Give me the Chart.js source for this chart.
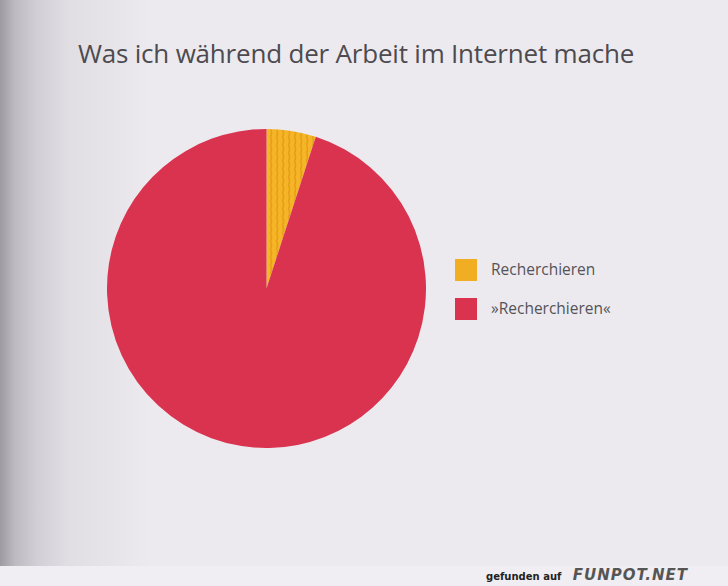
<!DOCTYPE html>
<html>
<head>
<meta charset="utf-8">
<script src="https://cdn.jsdelivr.net/npm/chart.js@4"></script>
<style>
  html, body { margin: 0; padding: 0; }
  body {
    width: 728px; height: 586px; overflow: hidden; position: relative;
    background: #eceaef;
    font-family: "Open Sans", "Noto Sans", sans-serif;
  }
  #shade {
    position: absolute; left: 0; top: 0; width: 150px; height: 566px;
    background: linear-gradient(to right, #9d9aa2 0%, #bdbac1 10%, #d2d0d6 25%, #e0dee3 45%, rgba(236,234,239,0) 100%);
  }
  #title {
    position: absolute; left: 0; width: 712px; top: 35px; text-align: center;
    font-size: 26px; color: #4d4b4f; letter-spacing: -0.2px;
  }
  #pie { position: absolute; left: 107px; top: 129px; width: 319px; height: 319px; }
  .leg { position: absolute; left: 455px; font-size: 15.5px; color: #555358; }
  .leg span.box { position: absolute; left: 0; width: 22px; height: 22px; }
  .leg span.txt { position: absolute; left: 36px; white-space: nowrap; }
  #strip {
    position: absolute; left: 0; top: 566px; width: 728px; height: 20px; background: #f0eef2;
  }
  #wm {
    position: absolute; right: 40px; top: 566px; font-family: "DejaVu Sans", sans-serif;
    font-size: 10px; font-weight: bold; color: #222; line-height: 18px;
  }
  #wm b { font-size: 15px; font-style: italic; color: #555; letter-spacing: 1px; margin-left: 8px; font-family: "DejaVu Sans", sans-serif; }
</style>
</head>
<body>
<div id="shade"></div>
<div id="title">Was ich während der Arbeit im Internet mache</div>
<div id="pie"><canvas id="c"></canvas></div>
<div id="legend"></div>
<div id="strip"></div>
<div id="wm">gefunden auf <b>FUNPOT.NET</b></div>
<script>
const labels = ["Recherchieren", "»Recherchieren«"];
const values = [5, 95];

// wavy vertical stripes, like the printed orange
function stripes() {
  const t = document.createElement("canvas");
  t.width = 6; t.height = 8;
  const g = t.getContext("2d");
  g.fillStyle = "#f5b526";
  g.fillRect(0, 0, 6, 8);
  g.strokeStyle = "#e69f1c";
  g.lineWidth = 1.6;
  g.beginPath();
  g.moveTo(1.5, 0);
  g.quadraticCurveTo(3.5, 4, 1.5, 8);
  g.stroke();
  return g.createPattern(t, "repeat");
}
const orange = stripes();
const colors = [orange, "#d9334f"];
const legendColors = ["#f2ae22", "#d9334f"];

new Chart("c", {
  type: "pie",
  data: {
    labels: labels,
    datasets: [{ data: values, backgroundColor: colors, borderWidth: 0 }],
  },
  options: {
    responsive: true,
    maintainAspectRatio: false,
    animation: false,
    layout: { padding: 0 },
    plugins: { legend: { display: false }, tooltip: { enabled: false } },
  },
});

const tops = [259, 298];
const leg = document.getElementById("legend");
labels.forEach((l, i) => {
  const d = document.createElement("div");
  d.className = "leg";
  d.style.top = tops[i] + "px";
  d.innerHTML = '<span class="box"></span><span class="txt" style="top:-1px">' + l + "</span>";
  d.querySelector(".box").style.background = legendColors[i];
  leg.appendChild(d);
});
</script>
</body>
</html>
